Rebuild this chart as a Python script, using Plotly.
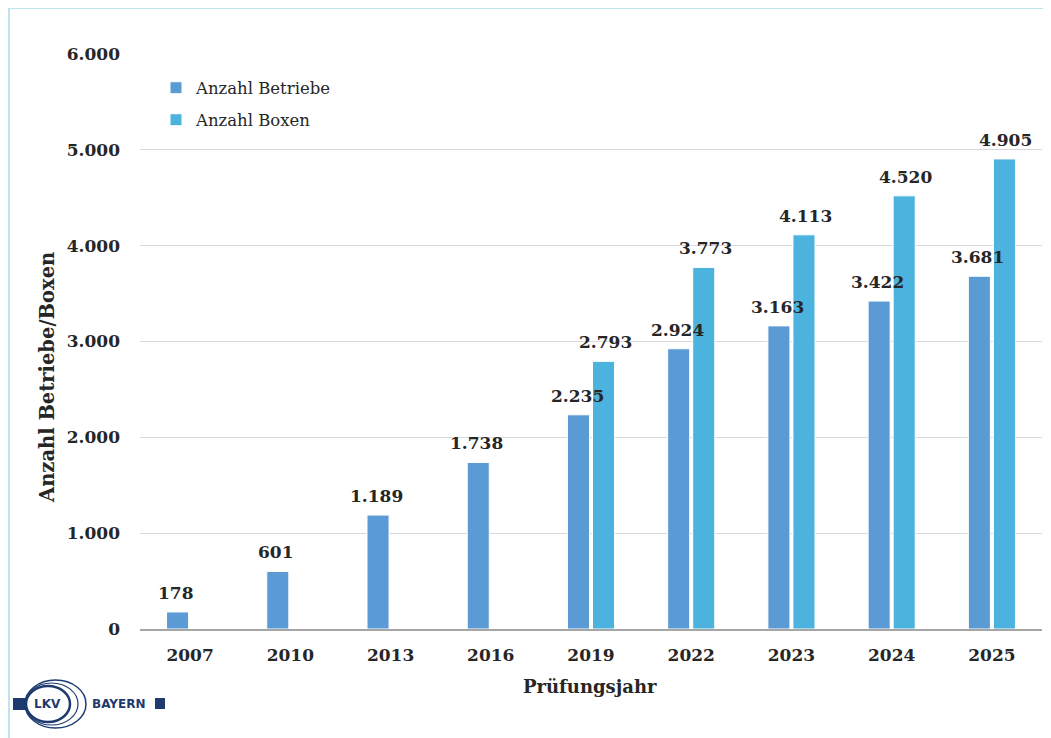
import plotly.graph_objects as go

years = ["2007", "2010", "2013", "2016", "2019", "2022", "2023", "2024", "2025"]
betriebe = [178, 601, 1189, 1738, 2235, 2924, 3163, 3422, 3681]
boxen = [None, None, None, None, 2793, 3773, 4113, 4520, 4905]
y_ticks = [0, 1000, 2000, 3000, 4000, 5000, 6000]

C_BETR = "#5B9BD5"
C_BOX = "#4BB3DD"
FONT = "DejaVu Serif"
TXT = "#262626"
NAVY = "#1E3A6E"

OFF = 8  # page body margin
W, H = 1051 - OFF, 738 - OFF
L, R, T, B = 140 - OFF, 1042 - OFF, 54 - OFF, 629 - OFF


def px(x):
    return (x - OFF - L) / (R - L)


def py(y):
    return (B - (y - OFF)) / (B - T)


fig = go.Figure()
fig.add_trace(go.Bar(x=years, y=betriebe, name="Anzahl Betriebe",
                     marker=dict(color=C_BETR, line=dict(color="#FFFFFF", width=1)),
                     legend="legend", showlegend=True))
fig.add_trace(go.Bar(x=years, y=boxen, name="Anzahl Boxen",
                     marker=dict(color=C_BOX, line=dict(color="#FFFFFF", width=1)),
                     legend="legend2", showlegend=True))

annotations = []
for xs, vals in ((-14, betriebe), (14, boxen)):
    for i, v in enumerate(vals):
        if v is None:
            continue
        annotations.append(dict(
            x=i, y=v, xref="x", yref="y", xshift=xs, yshift=7,
            text=f"{v:,}".replace(",", "."), showarrow=False,
            yanchor="bottom", xanchor="center",
            font=dict(family=FONT, size=17, color=TXT, weight="bold")))

annotations.append(dict(x=px(47), y=py(378), xref="paper", yref="paper",
                        xanchor="center", yanchor="middle",
                        text="<b>Anzahl Betriebe/Boxen</b>", textangle=-90,
                        showarrow=False, font=dict(family=FONT, size=19.5, color=TXT)))
annotations.append(dict(x=px(590), y=py(686), xref="paper", yref="paper",
                        xanchor="center", yanchor="middle",
                        text="<b>Prüfungsjahr</b>",
                        showarrow=False, font=dict(family=FONT, size=18, color=TXT)))
annotations.append(dict(x=px(47), y=py(704), xref="paper", yref="paper",
                        xanchor="center", yanchor="middle",
                        text="<b>LKV</b>", showarrow=False,
                        font=dict(family="DejaVu Sans", size=12, color=NAVY)))
annotations.append(dict(x=px(90), y=py(704), xref="paper", yref="paper",
                        xanchor="left", yanchor="middle",
                        text="<b>BAYERN</b>", showarrow=False,
                        font=dict(family="DejaVu Sans", size=12, color=NAVY)))

shapes = [
    dict(type="line", xref="paper", yref="paper", x0=px(9), x1=px(1060), y0=py(8), y1=py(8),
         line=dict(color="#BFE3EF", width=2)),
    dict(type="line", xref="paper", yref="paper", x0=px(9), x1=px(9), y0=py(8), y1=py(745),
         line=dict(color="#BFE3EF", width=2)),
    dict(type="rect", xref="paper", yref="paper", x0=px(13), x1=px(26), y0=py(698), y1=py(710),
         fillcolor=NAVY, line=dict(width=0)),
    dict(type="circle", xref="paper", yref="paper", x0=px(25), x1=px(86), y0=py(680), y1=py(728),
         line=dict(color=NAVY, width=1.5)),
    dict(type="circle", xref="paper", yref="paper", x0=px(25), x1=px(78), y0=py(683), y1=py(725),
         line=dict(color=NAVY, width=1.2)),
    dict(type="circle", xref="paper", yref="paper", x0=px(26), x1=px(70), y0=py(686), y1=py(722),
         line=dict(color=NAVY, width=2.5)),
    dict(type="rect", xref="paper", yref="paper", x0=px(155), x1=px(165), y0=py(698), y1=py(709),
         fillcolor=NAVY, line=dict(width=0)),
]

fig.update_layout(
    width=W, height=H,
    margin=dict(l=L, r=W - R, t=T, b=H - B, autoexpand=False),
    paper_bgcolor="white", plot_bgcolor="white",
    separators=",.",
    showlegend=True,
    barmode="group", bargap=0.5, bargroupgap=0.12,
    font=dict(family=FONT, color=TXT),
    legend=dict(x=px(156), y=py(88), xanchor="left", yanchor="middle", visible=True,
                bgcolor="rgba(0,0,0,0)", font=dict(family=FONT, size=16.5, color=TXT)),
    legend2=dict(x=px(156), y=py(120), xanchor="left", yanchor="middle", visible=True,
                 bgcolor="rgba(0,0,0,0)", font=dict(family=FONT, size=16.5, color=TXT)),
    annotations=annotations,
    shapes=shapes,
)
fig.update_yaxes(range=[0, 6000], tickvals=y_ticks, tickformat=",",
                 showgrid=True, gridcolor="#D9D9D9", gridwidth=1,
                 zeroline=False, showline=False,
                 ticklabelstandoff=19,
                 tickfont=dict(family=FONT, size=17, color=TXT, weight="bold"))
fig.update_xaxes(type="category", range=[-0.5, len(years) - 0.5],
                 showline=True, linecolor="#A6A6A6", linewidth=1.5,
                 ticks="", ticklabelstandoff=10,
                 tickfont=dict(family=FONT, size=17, color=TXT, weight="bold"))

fig.write_html("out.html")
